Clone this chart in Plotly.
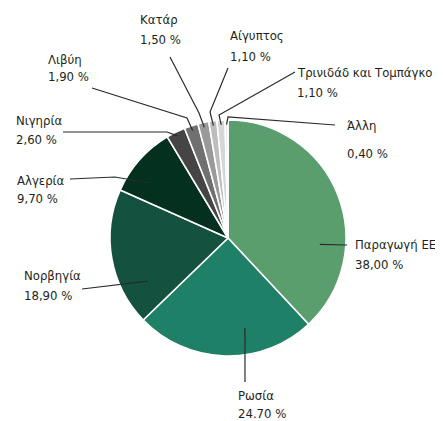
import math
import plotly.graph_objects as go

# ---- data ----
categories = ["Παραγωγή ΕΕ", "Ρωσία", "Νορβηγία", "Αλγερία", "Νιγηρία",
              "Λιβύη", "Κατάρ", "Αίγυπτος", "Τρινιδάδ και Τομπάγκο", "Άλλη"]
values = [38.0, 24.7, 18.9, 9.7, 2.6, 1.9, 1.5, 1.1, 1.1, 0.4]
value_labels = ["38,00 %", "24.70 %", "18,90 %", "9,70 %", "2,60 %",
                "1,90 %", "1,50 %", "1,10 %", "1,10 %", "0,40 %"]

# ---- styles ----
colors = ["#5b9e6e", "#1f8068", "#15513f", "#03301f", "#454545",
          "#707070", "#9a9a9a", "#bdbdbd", "#d6d6d6", "#ececec"]

OFF = 8  # page body margin of the browser
W, H = 443 - OFF, 421 - OFF
CX, CY, R = 228, 238, 118
FONT = "DejaVu Sans Condensed, Liberation Sans Narrow, sans-serif"
FS = 13
TXT = "#231f20"

# label layout: (name x, name y, value y) in window pixels
label_pos = [
    (353, 244, 264), (236, 395, 413), (22, 275, 295), (15, 180, 199), (14, 121, 139),
    (46, 60, 77), (138, 20, 39), (228, 35, 56), (295, 72, 92), (345, 125, 153),
]
leader_off = [25.5, -12.1, -18.3, -6.4, 0, 0, 0, 0, 0, 0]
leader_r = [0.78, 0.776, 0.77, 0.81, 0.965, 0.96, 0.96, 0.96, 0.96, 0.96]
leader_path = [
    [(347, 245)], [(245, 382)], [(82, 289)], [(70, 179), (115, 177)],
    [(63, 132), (167, 132)], [(92, 88), (187, 118)], [(170, 57), (199, 113)],
    [(228, 68), (210, 112)], [(295, 72), (219, 115)], [(335, 125), (228, 117)],
]


def px(x):
    return (x - OFF) / W


def py(y):
    return 1 - (y - OFF) / H


fig = go.Figure(go.Pie(
    labels=categories, values=values, sort=False, direction="clockwise",
    rotation=0, marker=dict(colors=colors, line=dict(color="white", width=1.6)),
    textinfo="none", hoverinfo="label+percent", showlegend=False,
    domain=dict(x=[px(CX - R), px(CX + R)], y=[py(CY + R), py(CY - R)]),
))

total = sum(values)
cum = 0.0
shapes = []
annotations = []
for i, v in enumerate(values):
    mid = (cum + v / 2) / total * 360
    cum += v
    ang = math.radians(mid + leader_off[i])
    ix = CX + R * leader_r[i] * math.sin(ang)
    iy = CY - R * leader_r[i] * math.cos(ang)
    pts = leader_path[i] + [(ix, iy)]
    path = "M " + " L ".join(f"{px(x):.5f},{py(y):.5f}" for x, y in pts)
    shapes.append(dict(type="path", xref="paper", yref="paper", path=path,
                       line=dict(color="#2b2b2b", width=1.2)))
    nx, ny, vy = label_pos[i]
    for t, yy in ((categories[i], ny), (value_labels[i], vy)):
        annotations.append(dict(x=px(nx), y=py(yy), xref="paper", yref="paper",
                                text=t, showarrow=False, xanchor="left",
                                yanchor="middle",
                                font=dict(family=FONT, size=FS, color=TXT)))

fig.update_layout(width=W, height=H, margin=dict(l=0, r=0, t=0, b=0),
                  paper_bgcolor="white", plot_bgcolor="white",
                  shapes=shapes, annotations=annotations)
fig.write_html("out.html")
